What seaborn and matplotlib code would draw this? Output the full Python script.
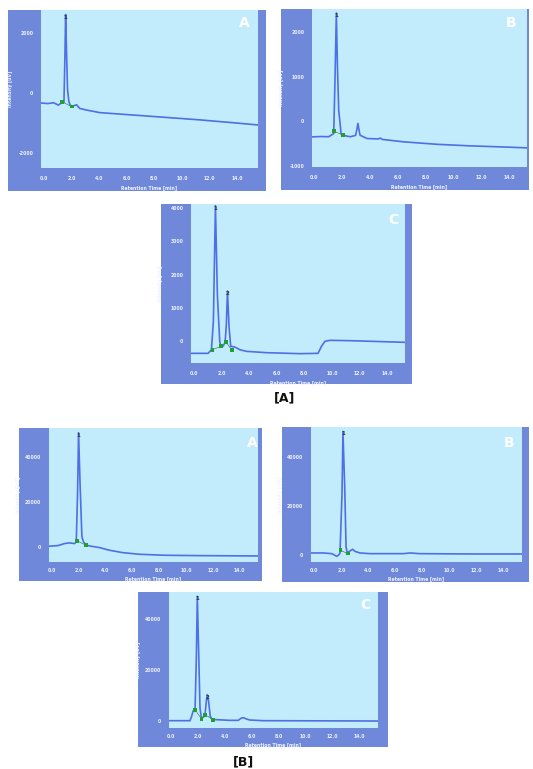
import matplotlib
matplotlib.use("Agg")
import matplotlib.pyplot as plt
from matplotlib.patches import Rectangle
import seaborn as sns
import pandas as pd

sns.set_style("white")
plt.rcParams['font.family'] = ['DejaVu Sans']

# ---------------- data ----------------
# Group [A]
a1_t = [-0.2, 0.3, 0.7, 1.06, 1.3, 1.46, 1.53, 1.58, 1.64, 1.72, 1.82, 1.92, 2.1, 2.38, 2.6, 3.1, 4.06, 6.47, 8.87, 11.27, 13.68, 15.5]
a1_y = [-340, -360, -330, -410, -330, -320, 1200, 2600, 1500, 100, -300, -420, -440, -400, -520, -575, -660, -740, -820, -900, -995, -1070]
a1_mt = [1.33, 2.02]
a1_my = [-300, -460]
a1_peaks = [(1.58, 2600, "1")]

b1_t = [-0.15, 0.5, 1.05, 1.41, 1.5, 1.6, 1.68, 1.77, 1.94, 2.26, 2.6, 2.98, 3.08, 3.15, 3.22, 3.3, 3.8, 4.6, 4.76, 4.9, 6.44, 8.83, 11.2, 13.6, 15.3]
b1_y = [-353, -345, -350, -280, 900, 2430, 1200, 250, -280, -330, -350, -320, -180, -50, -180, -315, -390, -400, -380, -410, -465, -520, -555, -580, -600]
b1_mt = [1.43, 2.09]
b1_my = [-225, -315]
b1_peaks = [(1.6, 2430, "1")]

c1_t = [-0.2, 0.5, 1.04, 1.28, 1.42, 1.57, 1.71, 1.88, 1.96, 2.13, 2.27, 2.36, 2.44, 2.56, 2.68, 2.97, 3.33, 3.8, 5.27, 7.68, 9.0, 9.25, 9.5, 9.86, 11.3, 13.7, 15.3]
c1_y = [-360, -360, -360, -250, 600, 4070, 1400, 0, -150, -140, -30, 500, 1510, 400, -150, -170, -250, -300, -340, -370, -360, -150, 0, 30, 20, -10, -30]
c1_mt = [1.35, 1.98, 2.34, 2.75]
c1_my = [-250, -150, -30, -250]
c1_peaks = [(1.57, 4070, "1"), (2.44, 1510, "2")]

# Group [B]
a2_t = [-0.2, 0.47, 0.96, 1.33, 1.7, 1.83, 1.93, 2.0, 2.12, 2.25, 2.37, 2.57, 2.94, 3.56, 4.3, 5.28, 6.52, 8.49, 10.96, 15.36]
a2_y = [450, 750, 1640, 1940, 1640, 2300, 25000, 51000, 27000, 4600, 2400, 900, 450, -150, -1340, -2390, -3130, -3580, -3730, -3880]
a2_mt = [1.9, 2.57]
a2_my = [2800, 900]
a2_peaks = [(2.0, 51000, "1")]

b2_t = [-0.25, 0.67, 1.28, 1.53, 1.65, 1.78, 1.9, 2.05, 2.12, 2.25, 2.35, 2.44, 2.64, 2.84, 3.0, 3.38, 4.12, 6.6, 7.1, 7.8, 11.5, 15.4]
b2_y = [690, 690, 410, -275, -690, -275, 690, 25000, 50600, 27900, 3160, 690, 1510, 2200, 1370, 690, 410, 410, 690, 410, 275, 275]
b2_mt = [1.95, 2.47]
b2_my = [1790, 410]
b2_peaks = [(2.12, 50600, "1")]

c2_t = [-0.15, 1.41, 1.53, 1.65, 1.78, 1.88, 1.95, 2.05, 2.15, 2.25, 2.4, 2.52, 2.62, 2.69, 2.79, 2.91, 3.06, 3.38, 4.37, 4.99, 5.19, 5.36, 5.6, 5.85, 6.84, 15.36]
c2_y = [260, 260, 1960, 4180, 3900, 25000, 49000, 27450, 5230, 1570, 1570, 2600, 7840, 10460, 7840, 1960, 780, 650, 390, 390, 1180, 1440, 915, 520, 260, 130]
c2_mt = [1.78, 2.27, 2.54, 3.11]
c2_my = [4575, 915, 2600, 650]
c2_peaks = [(1.95, 49000, "1"), (2.69, 10460, "2")]

x_ticks = [0, 2, 4, 6, 8, 10, 12, 14]
x_ticklabels = ["0.0", "2.0", "4.0", "6.0", "8.0", "10.0", "12.0", "14.0"]
yt_a1 = [-2000, 0, 2000]
yt_b1 = [-1000, 0, 1000, 2000]
yt_c1 = [0, 1000, 2000, 3000, 4000]
yt_big = [0, 20000, 40000]

x_label = "Retention Time [min]"
y_label = "Intensity [uV]"

# ---------------- layout ----------------
W, H = 533, 769
fig = plt.figure(figsize=(W / 100, H / 100), dpi=100)
fig.patch.set_facecolor("white")

FRAME = "#6f88da"
PLOT_BG = "#c2ecfc"
LINE = "#4e6fe6"
TXT = "#eef3ff"

def fr(x0, y0, x1, y1):
    return [x0 / W, 1 - y1 / H, (x1 - x0) / W, (y1 - y0) / H]

panels = [
    dict(t=a1_t, y=a1_y, mt=a1_mt, my=a1_my, pk=a1_peaks, frame=(8, 10, 266, 191), plot=(41, 10, 258, 168),
         xlim=(-0.2, 15.5), ylim=(-2500, 2750), yt=yt_a1, letter="A", lpos=(244, 23), xl=17, xpad=4),
    dict(t=b1_t, y=b1_y, mt=b1_mt, my=b1_my, pk=b1_peaks, frame=(281, 9, 529, 190), plot=(312, 9, 527, 167),
         xlim=(-0.15, 15.3), ylim=(-1030, 2520), yt=yt_b1, letter="B", lpos=(511, 23), xl=17, xpad=4),
    dict(t=c1_t, y=c1_y, mt=c1_mt, my=c1_my, pk=c1_peaks, frame=(161, 204, 412, 384), plot=(191, 204, 405, 363),
         xlim=(-0.2, 15.3), ylim=(-650, 4120), yt=yt_c1, letter="C", lpos=(393, 220), xl=17, xpad=4),
    dict(t=a2_t, y=a2_y, mt=a2_mt, my=a2_my, pk=a2_peaks, frame=(19, 428, 262, 581), plot=(49, 428, 258, 562),
         xlim=(-0.2, 15.36), ylim=(-6570, 53100), yt=yt_big, letter="A", lpos=(252, 443), xl=14, xpad=2.5),
    dict(t=b2_t, y=b2_y, mt=b2_mt, my=b2_my, pk=b2_peaks, frame=(282, 427, 529, 582), plot=(311, 427, 522, 562),
         xlim=(-0.25, 15.4), ylim=(-3020, 52400), yt=yt_big, letter="B", lpos=(509, 443), xl=14, xpad=2.5),
    dict(t=c2_t, y=c2_y, mt=c2_mt, my=c2_my, pk=c2_peaks, frame=(138, 592, 388, 747), plot=(169, 592, 378, 728),
         xlim=(-0.15, 15.36), ylim=(-2610, 50700), yt=yt_big, letter="C", lpos=(365, 605), xl=14, xpad=2.5),
]

for p in panels:
    fx0, fy0, fx1, fy1 = p["frame"]
    fig.patches.append(Rectangle((fx0 / W, 1 - fy1 / H), (fx1 - fx0) / W, (fy1 - fy0) / H,
                                 transform=fig.transFigure, facecolor=FRAME, edgecolor="none", zorder=-10))
    px0, py0, px1, py1 = p["plot"]
    ax = fig.add_axes(fr(px0, py0, px1, py1))
    ax.set_zorder(1)
    ax.set_facecolor(PLOT_BG)
    df = pd.DataFrame({"t": p["t"], "v": p["y"]})
    sns.lineplot(data=df, x="t", y="v", ax=ax, color=LINE, linewidth=1.2, sort=False, estimator=None)
    mdf = pd.DataFrame({"t": p["mt"], "v": p["my"]})
    for i in range(0, len(p["mt"]) - 1, 2):
        ax.plot(p["mt"][i:i + 2], p["my"][i:i + 2], color="#2e6b3a", linewidth=0.4)
    sns.scatterplot(data=mdf, x="t", y="v", ax=ax, color="#1fa02f", marker="s", s=7, edgecolor="none", zorder=5)
    for (pt, pv, lab) in p["pk"]:
        ax.text(pt, pv, lab, fontsize=4, color="#333333", ha="center", va="top", fontweight="bold")
    ax.set_xlim(*p["xlim"])
    ax.set_ylim(*p["ylim"])
    ax.set_xticks(x_ticks)
    ax.set_xticklabels(x_ticklabels)
    ax.set_yticks(p["yt"])
    ax.set_yticklabels([str(v) for v in p["yt"]])
    ax.set_xticks([i * 0.5 for i in range(0, 31)], minor=True)
    ax.tick_params(axis="both", which="major", colors=TXT, labelsize=3.3, length=1.5, width=0.4, pad=4)
    ax.tick_params(axis="x", which="major", pad=p["xpad"])
    ax.tick_params(axis="x", which="minor", colors=TXT, length=1.0, width=0.3)
    for lab in ax.get_xticklabels() + ax.get_yticklabels():
        lab.set_fontweight("bold")
    for s in ax.spines.values():
        s.set_visible(False)
    ax.grid(False)
    ax.set_xlabel(x_label, fontsize=3.3, color=TXT, fontweight="bold")
    ax.set_ylabel(y_label, fontsize=3.3, color=TXT, fontweight="bold")
    pw, ph = px1 - px0, py1 - py0
    ax.xaxis.set_label_coords(0.5, -p["xl"] / ph)
    ax.yaxis.set_label_coords(-28 / pw, 0.5)
    lx, ly = p["lpos"]
    fig.text(lx / W, 1 - ly / H, p["letter"], fontsize=10, color="white", fontweight="bold",
             ha="center", va="center", zorder=5)

fig.text(285 / W, 1 - 398 / H, "[A]", fontsize=9, color="#111111", fontweight="bold", ha="center", va="center")
fig.text(243 / W, 1 - 762 / H, "[B]", fontsize=9, color="#111111", fontweight="bold", ha="center", va="center")

fig.savefig("out.png", dpi=100, facecolor="white")
